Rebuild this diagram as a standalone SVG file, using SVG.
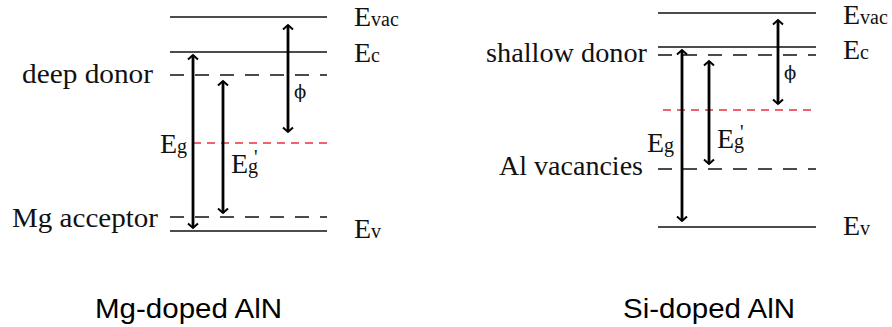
<svg xmlns="http://www.w3.org/2000/svg" width="892" height="327" viewBox="0 0 892 327">
<defs>
<marker id="chev" viewBox="-6 -6 8 12" markerWidth="8" markerHeight="12" refX="0" refY="0" markerUnits="userSpaceOnUse" orient="auto-start-reverse">
<path d="M-4.5,-5 L0,0 L-4.5,5" fill="none" stroke="#000" stroke-width="2"/>
</marker>
</defs>
<style>
.lvl{stroke:#111;stroke-width:1.4;fill:none}
.dash{stroke:#111;stroke-width:1.4;stroke-dasharray:14 11;fill:none}
.red{stroke:#e8323c;stroke-width:1.4;stroke-dasharray:8 6;fill:none}
.arr{stroke:#000;stroke-width:2.8;fill:none;marker-start:url(#chev);marker-end:url(#chev)}
.t{font-family:"Liberation Serif","Times New Roman",serif;font-size:28px;fill:#111}
.s{font-size:20px}
.ph{font-family:"DejaVu Serif","Liberation Serif",serif;font-size:18px;fill:#111}
.cap{font-family:"Liberation Sans",Arial,sans-serif;font-size:28px;fill:#000}
</style>
<rect width="892" height="327" fill="#fff"/>

<g id="mg-panel">
<g id="mg-levels">
<line class="lvl" x1="170" y1="17" x2="327" y2="17"/>
<line class="lvl" x1="170" y1="52" x2="327" y2="52"/>
<line class="dash" x1="170" y1="75" x2="327" y2="75"/>
<line class="red" x1="193" y1="143" x2="330" y2="143"/>
<line class="dash" x1="170" y1="217" x2="327" y2="217"/>
<line class="lvl" x1="170" y1="231" x2="327" y2="231"/>
</g>
<g id="mg-labels">
<text class="t" x="354" y="26">E<tspan class="s">vac</tspan></text>
<text class="t" x="354" y="62">E<tspan class="s">c</tspan></text>
<text class="t" x="354" y="238">E<tspan class="s">v</tspan></text>
<text class="t" x="22" y="83" textLength="131" lengthAdjust="spacingAndGlyphs">deep donor</text>
<text class="t" x="12" y="227" textLength="146" lengthAdjust="spacingAndGlyphs">Mg acceptor</text>
<text class="t" x="160" y="153">E<tspan class="s">g</tspan></text>
<text class="t" x="231" y="173">E<tspan class="s">g</tspan><tspan class="s" dx="-4" dy="-9">'</tspan></text>
<text class="ph" x="294" y="98">ϕ</text>
</g>
</g>

<g id="si-panel">
<g id="si-levels">
<line class="lvl" x1="658" y1="13" x2="816" y2="13"/>
<line class="lvl" x1="658" y1="47" x2="816" y2="47"/>
<line class="dash" x1="658" y1="55" x2="816" y2="55"/>
<line class="red" x1="663" y1="110" x2="817" y2="110"/>
<line class="dash" x1="658" y1="169" x2="816" y2="169"/>
<line class="lvl" x1="658" y1="227" x2="816" y2="227"/>
</g>
<g id="si-labels">
<text class="t" x="843" y="24">E<tspan class="s">vac</tspan></text>
<text class="t" x="843" y="59">E<tspan class="s">c</tspan></text>
<text class="t" x="843" y="235">E<tspan class="s">v</tspan></text>
<text class="t" x="486" y="62" textLength="161" lengthAdjust="spacingAndGlyphs">shallow donor</text>
<text class="t" x="499" y="175" textLength="144" lengthAdjust="spacingAndGlyphs">Al vacancies</text>
<text class="t" x="647" y="152">E<tspan class="s">g</tspan></text>
<text class="t" x="717" y="148">E<tspan class="s">g</tspan><tspan class="s" dx="-4" dy="-9">'</tspan></text>
<text class="ph" x="784" y="79">ϕ</text>
</g>
</g>

<g id="connectors">
<line class="arr" x1="193" y1="55" x2="193" y2="228"/>
<line class="arr" x1="223" y1="81" x2="223" y2="213"/>
<line class="arr" x1="288" y1="25" x2="288" y2="132"/>
<line class="arr" x1="682" y1="50" x2="682" y2="221"/>
<line class="arr" x1="709" y1="61" x2="709" y2="164"/>
<line class="arr" x1="778" y1="20" x2="778" y2="104"/>
</g>

<g id="captions">
<text class="cap" x="95" y="318" textLength="187" lengthAdjust="spacingAndGlyphs">Mg-doped AlN</text>
<text class="cap" x="623" y="318" textLength="172" lengthAdjust="spacingAndGlyphs">Si-doped AlN</text>
</g>
</svg>
